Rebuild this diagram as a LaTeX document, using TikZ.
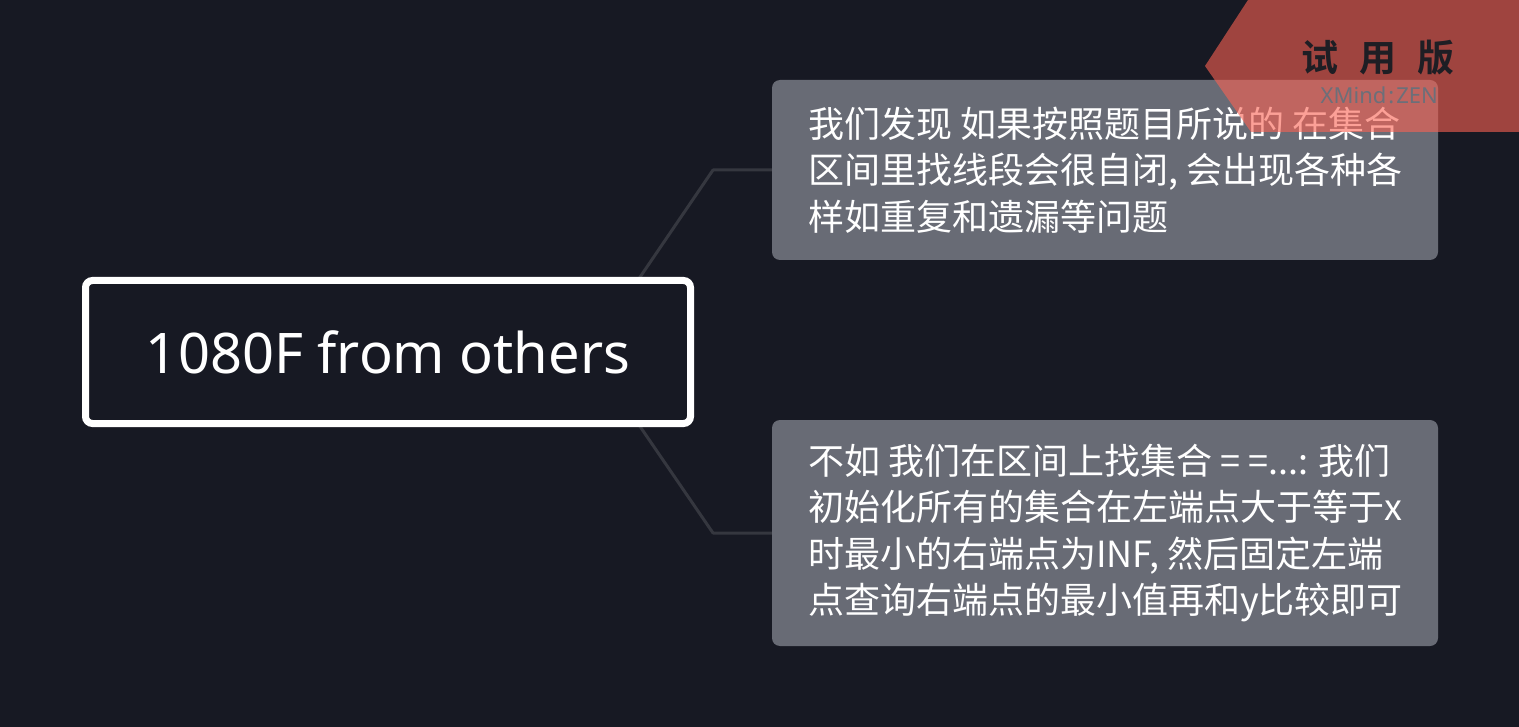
\documentclass[tikz,border=0pt]{standalone}
\usepackage{fontspec}
\setmainfont{Noto Sans}
\newfontfamily\cjk{Noto Sans CJK SC}
\newfontfamily\cjkbold[BoldFont={Noto Sans CJK SC Bold}]{Noto Sans CJK SC}
\usetikzlibrary{backgrounds}
\definecolor{bgc}{HTML}{171923}
\definecolor{boxc}{HTML}{686B75}
\definecolor{linec}{HTML}{35373F}
\definecolor{wmred}{RGB}{251,98,82}
\definecolor{wmtext}{HTML}{1E1E24}
\definecolor{wmgray}{HTML}{6C6F79}
\tikzset{
  mainbox/.style={draw=white, line width=7pt, fill=bgc, rounded corners=7pt,
    minimum width=605pt, minimum height=143pt, inner sep=0pt,
    text=white, font=\fontsize{56}{60}\selectfont},
  subbox/.style={fill=boxc, rounded corners=8pt, minimum width=666pt, inner sep=0pt},
  subtext/.style={anchor=west, align=left, text=white, inner sep=0pt,
    font=\cjk\fontsize{36}{46.5}\selectfont},
  conn/.style={draw=linec, line width=3pt, line join=round},
}
\begin{document}
\begin{tikzpicture}[x=1pt,y=-1pt]
\useasboundingbox (0,0) rectangle (1519,727);

\node[mainbox] (main) at (388,352) {1080F from others};

\node[subbox, minimum height=180pt] (top) at (1105,170) {};
\node[subtext] (toptext) at ([xshift=36pt]top.west)
  {我们发现 如果按照题目所说的 在集合\\区间里找线段会很自闭, 会出现各种各\\样如重复和遗漏等问题};

\node[subbox, minimum height=226pt] (bot) at (1105,533) {};
\node[subtext] (bottext) at ([xshift=36pt]bot.west)
  {不如 我们在区间上找集合 = =...: 我们\\初始化所有的集合在左端点大于等于x\\时最小的右端点为INF, 然后固定左端\\点查询右端点的最小值再和y比较即可};

\begin{scope}[on background layer]
  \fill[bgc] (0,0) rectangle (1519,727);
  \coordinate (j1) at (589,352);
  \draw[conn] (j1) -- (713,170) -- (top.west);
  \draw[conn] (j1) -- (713,533) -- (bot.west);
\end{scope}

% watermark
\fill[wmred, fill opacity=0.6] (1248,0) -- (1519,0) -- (1519,132) -- (1251,132) -- (1205,66) -- cycle;
\node[text=wmtext, font=\cjkbold\bfseries\fontsize{37}{40}\selectfont, inner sep=0pt] (wm) at (1378,58) {试\hspace{21pt}用\hspace{21pt}版};
\node[text=wmgray, font=\fontsize{22}{24}\selectfont, anchor=base east, inner sep=0pt] (wmz) at (1438,104) {XMind\hspace{2pt}:\hspace{2pt}ZEN};
\end{tikzpicture}
\end{document}
